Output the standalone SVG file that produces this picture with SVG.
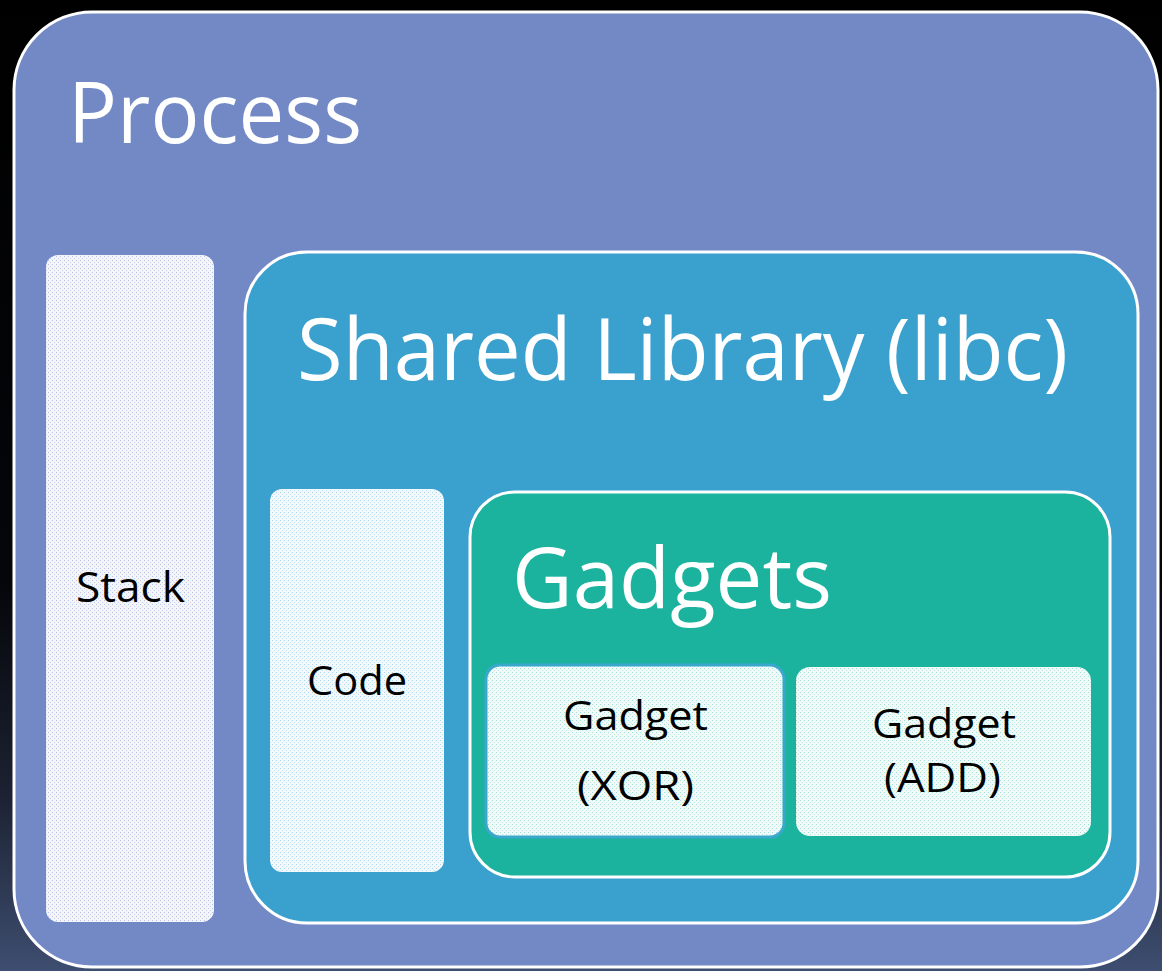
<svg xmlns="http://www.w3.org/2000/svg" width="1162" height="971" viewBox="0 0 1162 971">
<defs>
<linearGradient id="bg" x1="0" y1="0" x2="0" y2="1">
<stop offset="0" stop-color="#000000"/>
<stop offset="0.6" stop-color="#05060a"/>
<stop offset="0.82" stop-color="#1c2232"/>
<stop offset="1" stop-color="#3e4e70"/>
</linearGradient>
<pattern id="dotBlue" width="4" height="4" patternUnits="userSpaceOnUse">
<rect width="4" height="4" fill="#f4f5fb"/>
<rect x="0" y="0" width="1" height="1" fill="#b9c3e3"/>
<rect x="2" y="2" width="1" height="1" fill="#c9d1ea"/>
</pattern>
<pattern id="dotCyan" width="4" height="4" patternUnits="userSpaceOnUse">
<rect width="4" height="4" fill="#f2f8fc"/>
<rect x="0" y="0" width="1" height="1" fill="#a9d6ea"/>
<rect x="2" y="2" width="1" height="1" fill="#c2e2f0"/>
</pattern>
<pattern id="dotGreen" width="4" height="4" patternUnits="userSpaceOnUse">
<rect width="4" height="4" fill="#f1faf8"/>
<rect x="0" y="0" width="1" height="1" fill="#a3ded5"/>
<rect x="2" y="2" width="1" height="1" fill="#bfe8e1"/>
</pattern>
</defs>
<style>
.big{font-family:"Open Sans","Noto Sans",sans-serif;fill:#ffffff;}
.small{font-family:"Open Sans","Noto Sans",sans-serif;fill:#000000;}
.frame{stroke:#ffffff;stroke-width:3;}
</style>
<rect width="1162" height="971" fill="url(#bg)"/>
<g id="process">
<rect class="frame" x="14" y="12" width="1144" height="955" rx="78" fill="#7289c6"/>
<text class="big" x="68" y="143" font-size="84" textLength="294" lengthAdjust="spacingAndGlyphs">Process</text>
</g>
<g id="stack">
<rect x="46" y="255" width="168" height="667" rx="12" fill="url(#dotBlue)"/>
<text class="small" x="76" y="602" font-size="42" textLength="109" lengthAdjust="spacingAndGlyphs">Stack</text>
</g>
<g id="shared-library">
<rect class="frame" x="245" y="252" width="893" height="671" rx="62" fill="#3aa0cd"/>
<text class="big" x="297" y="380" font-size="86" textLength="771" lengthAdjust="spacingAndGlyphs">Shared Library (libc)</text>
</g>
<g id="code">
<rect x="270" y="489" width="174" height="383" rx="12" fill="url(#dotCyan)"/>
<text class="small" x="307" y="695" font-size="40" textLength="100" lengthAdjust="spacingAndGlyphs">Code</text>
</g>
<g id="gadgets">
<rect class="frame" x="470" y="492" width="640" height="385" rx="45" fill="#1bb39e"/>
<text class="big" x="512" y="608" font-size="84" textLength="320" lengthAdjust="spacingAndGlyphs">Gadgets</text>
</g>
<g id="gadget-xor">
<rect x="486" y="665" width="298" height="172" rx="14" fill="url(#dotGreen)" stroke="#3aa8cc" stroke-width="3"/>
<text class="small" x="563" y="730" font-size="40" textLength="145" lengthAdjust="spacingAndGlyphs">Gadget</text>
<text class="small" x="577" y="800" font-size="40" textLength="117" lengthAdjust="spacingAndGlyphs">(XOR)</text>
</g>
<g id="gadget-add">
<rect x="796" y="667" width="295" height="169" rx="14" fill="url(#dotGreen)"/>
<text class="small" x="872" y="738" font-size="40" textLength="144" lengthAdjust="spacingAndGlyphs">Gadget</text>
<text class="small" x="884" y="792" font-size="40" textLength="117" lengthAdjust="spacingAndGlyphs">(ADD)</text>
</g>
<g id="connectors"></g>
</svg>
